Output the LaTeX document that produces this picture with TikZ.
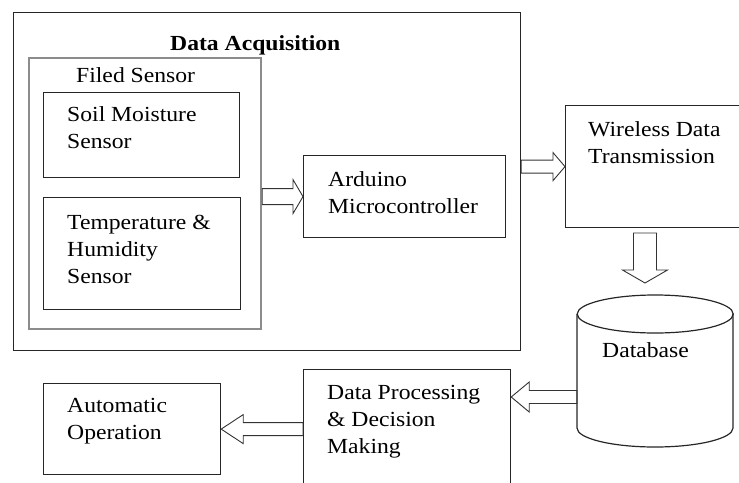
\documentclass[tikz,border=0pt]{standalone}
\usepackage{fontspec}
\setmainfont{Liberation Serif}[FakeStretch=1.1]
\usetikzlibrary{calc}

% hollow block arrow: from, to, shaft half width, head half width, head length
\newcommand{\fatarrow}[5]{%
  \coordinate (fa_h) at ($(#2)!#5!(#1)$);
  \draw[fat_s] ($(#1)!#3!90:(#2)$) -- ($(fa_h)!#3!90:(#2)$) -- ($(fa_h)!#4!90:(#2)$)
    -- (#2) -- ($(fa_h)!#4!-90:(#2)$) -- ($(fa_h)!#3!-90:(#2)$) -- ($(#1)!#3!-90:(#2)$) -- cycle;
}

\begin{document}
\begin{tikzpicture}[x=1pt,y=-1pt]

\tikzset{
  box_s/.style = {draw=black!85, line width=1.2pt, inner sep=0pt, anchor=north west},
  fld_s/.style = {box_s, draw=black!45, line width=2.2pt},
  txt_s/.style = {align=left, inner sep=0pt, anchor=base west,
    font=\fontsize{21.5}{27}\selectfont},
  fat_s/.style = {draw=black!80, line width=0.9pt, line join=miter}
}
\useasboundingbox (0,0) rectangle (739,482);
\clip (0,0) rectangle (739,482);

% data acquisition block (text nodes sit on the baseline of their last line)
\node [box_s, minimum width=507pt, minimum height=338pt] (acq) at (13,12) {};
\node [txt_s, font=\fontsize{21.5}{27}\selectfont\bfseries] (acq_t) at (170,50) {Data Acquisition};
\node [fld_s, minimum width=232pt, minimum height=271pt] (field) at (28,57) {};
\node [txt_s] (field_t) at (76,82) {Filed Sensor};
\node [box_s, minimum width=196pt, minimum height=85pt] (soil) at (43,92) {};
\node [txt_s] (soil_t) at (67,148) {Soil Moisture\\Sensor};
\node [box_s, minimum width=197pt, minimum height=112pt] (temp) at (43,197) {};
\node [txt_s] (temp_t) at (67,283) {Temperature \&\\Humidity\\Sensor};
\node [box_s, minimum width=202pt, minimum height=82pt] (ardu) at (303,155) {};
\node [txt_s] (ardu_t) at (328,213) {Arduino\\Microcontroller};

% transmission and storage
\node [box_s, minimum width=180pt, minimum height=122pt] (wire) at (565,105) {};
\node [txt_s] (wire_t) at (588,163) {Wireless Data\\Transmission};
\node [inner sep=0pt, minimum width=156pt, minimum height=152pt, anchor=north west] (db) at (577,295) {};
\draw [box_s] (db.north west) ++(0,19) -- ++(0,114)
  arc [start angle=180, end angle=0, x radius=78, y radius=19] -- ++(0,-114);
\draw [box_s] ($(db.north)+(0,19)$) ellipse [x radius=78, y radius=19];
\node [txt_s] (db_t) at (602,357) {Database};

% processing and operation
\node [box_s, minimum width=207pt, minimum height=131pt] (proc) at (303,369) {};
\node [txt_s] (proc_t) at (327,453) {Data Processing\\\& Decision\\Making};
\node [box_s, minimum width=177pt, minimum height=91pt] (auto) at (43,383) {};
\node [txt_s] (auto_t) at (67,439) {Automatic\\Operation};

% arrows
\coordinate (d_top) at (645,233);
\coordinate (d_bot) at (645,283);
\coordinate (p_in) at ($(proc.north east)+(0,28)$);
\fatarrow{field.east |- ardu.west}{ardu.west}{8pt}{17pt}{10pt}
\fatarrow{acq.east |- wire.west}{wire.west}{6.5pt}{14pt}{12pt}
\fatarrow{d_top}{d_bot}{11.5pt}{22.5pt}{13pt}
\fatarrow{db.west |- p_in}{p_in}{6.5pt}{15pt}{18pt}
\fatarrow{proc.west |- auto.east}{auto.east}{6.5pt}{14.5pt}{22pt}

\end{tikzpicture}
\end{document}
